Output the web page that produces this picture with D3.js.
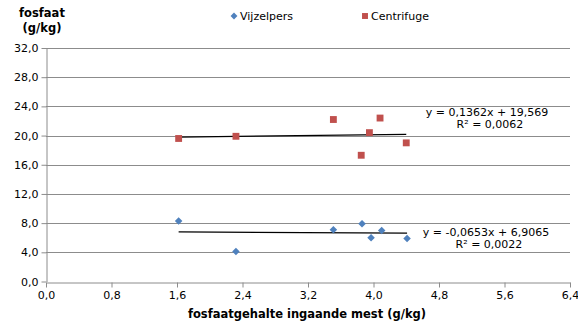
<!DOCTYPE html>
<html>
<head>
<meta charset="utf-8">
<script src="https://cdn.jsdelivr.net/npm/d3@7"></script>
<style>
  html, body { margin: 0; padding: 0; background: #fff; }
  svg { display: block; font-family: "DejaVu Sans", Verdana, sans-serif; }
</style>
</head>
<body>
<svg id="chart" width="578" height="325"></svg>
<script>
// Phosphate content: incoming manure (x) vs. separated product (y), g/kg
const seriesNames = ["Vijzelpers", "Centrifuge"];
const vijzelpersX = [1.62, 2.32, 3.51, 3.86, 3.97, 4.10, 4.41];
const vijzelpersY = [8.3, 4.1, 7.1, 7.9, 6.0, 7.0, 5.9];
const centrifugeX = [1.62, 2.32, 3.51, 3.85, 3.95, 4.08, 4.40];
const centrifugeY = [19.6, 19.9, 22.2, 17.3, 20.4, 22.4, 19.0];

// Linear trendlines (slope, intercept) and their labels
const trendSlope = [-0.0653, 0.1362];
const trendIntercept = [6.9065, 19.569];
const trendEquation = ["y = -0,0653x + 6,9065", "y = 0,1362x + 19,569"];
const trendR2 = ["R² = 0,0022", "R² = 0,0062"];

const xTicks = [0, 0.8, 1.6, 2.4, 3.2, 4.0, 4.8, 5.6, 6.4];
const yTicks = [0, 4, 8, 12, 16, 20, 24, 28, 32];

const colors = ["#4F81BD", "#C0504D"];
const fmt = v => d3.format(".1f")(v).replace(".", ",");
const fontSize = 11;
const titleSize = 11.5;

const svg = d3.select("#chart");
const x = d3.scaleLinear().domain([0, 6.4]).range([46, 570]);
const y = d3.scaleLinear().domain([0, 32]).range([281.5, 48]);

// Horizontal gridlines
svg.append("g").selectAll("line").data(yTicks.slice(1)).join("line")
  .attr("x1", x(0)).attr("x2", x(6.4))
  .attr("y1", d => Math.round(y(d)) + 0.5).attr("y2", d => Math.round(y(d)) + 0.5)
  .attr("stroke", "#8c8c8c").attr("stroke-width", 1);

// Y axis
const yAxis = svg.append("g")
  .attr("transform", `translate(${x(0) + 0.5},0)`)
  .call(d3.axisLeft(y).tickValues(yTicks).tickFormat(fmt).tickSize(5).tickSizeOuter(0));
// X axis
const xAxis = svg.append("g")
  .attr("transform", `translate(0,${Math.round(y(0)) + 0.5})`)
  .call(d3.axisBottom(x).tickValues(xTicks).tickFormat(fmt).tickSize(5).tickSizeOuter(0));

[yAxis, xAxis].forEach(a => {
  a.select(".domain").attr("stroke", "#8c8c8c");
  a.selectAll(".tick line").attr("stroke", "#8c8c8c");
  a.selectAll(".tick text").attr("fill", "#000").attr("font-size", fontSize)
    .attr("font-family", "'DejaVu Sans', Verdana, sans-serif");
});
yAxis.selectAll(".tick text").attr("x", -8);
xAxis.selectAll(".tick text").attr("y", 9);

// Trendlines, drawn from the smallest to the largest x of each series
const xs = [vijzelpersX, centrifugeX];
[0, 1].forEach(i => {
  const [x0, x1] = d3.extent(xs[i]);
  svg.append("line")
    .attr("x1", x(x0)).attr("x2", x(x1))
    .attr("y1", y(trendSlope[i] * x0 + trendIntercept[i]))
    .attr("y2", y(trendSlope[i] * x1 + trendIntercept[i]))
    .attr("stroke", "#000").attr("stroke-width", 1.3);
});

// Markers
const diamond = d3.symbol().type(d3.symbolDiamond2).size(36);
const square = d3.symbol().type(d3.symbolSquare2).size(60);
svg.append("g").selectAll("path").data(d3.zip(vijzelpersX, vijzelpersY)).join("path")
  .attr("d", diamond).attr("fill", colors[0])
  .attr("transform", d => `translate(${x(d[0])},${y(d[1])})`);
svg.append("g").selectAll("path").data(d3.zip(centrifugeX, centrifugeY)).join("path")
  .attr("d", square).attr("fill", colors[1])
  .attr("transform", d => `translate(${x(d[0])},${y(d[1])})`);

// Trendline labels
const labelPos = [[486, 236], [487, 116]];
[0, 1].forEach(i => {
  const g = svg.append("g").attr("font-size", fontSize).attr("fill", "#000").attr("text-anchor", "middle");
  g.append("text").attr("x", labelPos[i][0]).attr("y", labelPos[i][1]).text(trendEquation[i]);
  g.append("text").attr("x", labelPos[i][0] + 3).attr("y", labelPos[i][1] + 12).text(trendR2[i]);
});

// Legend
const legend = svg.append("g").attr("font-size", fontSize);
const legendX = [234, 365];
seriesNames.forEach((name, i) => {
  const sym = i === 0 ? d3.symbol().type(d3.symbolDiamond2).size(30)
                      : d3.symbol().type(d3.symbolSquare2).size(45);
  legend.append("path").attr("d", sym).attr("fill", colors[i])
    .attr("transform", `translate(${legendX[i]},16)`);
  legend.append("text").attr("x", legendX[i] + 6).attr("y", 20).text(name);
});

// Axis titles
svg.append("text").attr("x", 42).attr("y", 17).attr("text-anchor", "middle")
  .attr("font-size", titleSize).attr("font-weight", "bold").text("fosfaat");
svg.append("text").attr("x", 42).attr("y", 32).attr("text-anchor", "middle")
  .attr("font-size", titleSize).attr("font-weight", "bold").text("(g/kg)");
svg.append("text").attr("x", 307).attr("y", 318).attr("text-anchor", "middle")
  .attr("font-size", titleSize).attr("font-weight", "bold").text("fosfaatgehalte ingaande mest (g/kg)");
</script>
</body>
</html>
